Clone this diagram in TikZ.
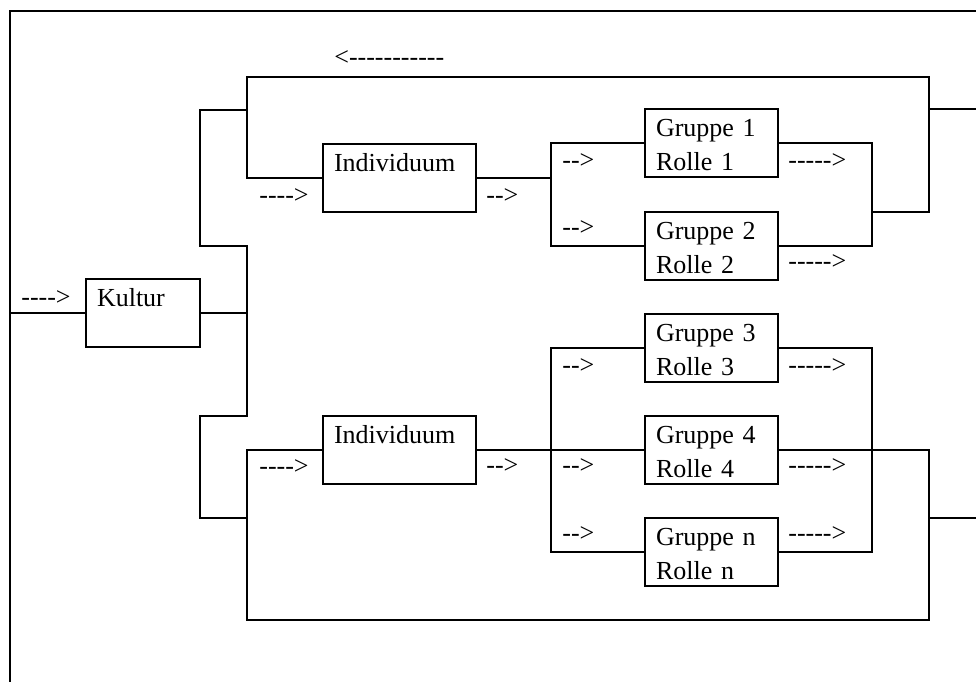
\documentclass[tikz,border=0pt]{standalone}
\usepackage{fontspec}
\setmainfont{Liberation Serif}[Ligatures=TeXOff]

\begin{document}
\begin{tikzpicture}[x=1pt,y=-1pt,line width=2.7pt,
    font=\fontsize{26}{34}\selectfont,
    kasten/.style={draw,anchor=north west,outer sep=0pt,inner xsep=11pt,inner ysep=0pt,
        text height=27pt,text depth=41pt,align=left},
    pfeil/.style={anchor=base west,inner sep=0pt}]
\useasboundingbox (0,0) rectangle (976,682);

\node [kasten,text width=92pt] (kultur) at (86,279) {Kultur};
\node [kasten,text width=131pt] (ind1) at (323,144) {Individuum};
\node [kasten,text width=131pt] (ind2) at (323,416) {Individuum};
\node [kasten,text width=111pt] (g1) at (645,109) {Gruppe 1\\Rolle 1};
\node [kasten,text width=111pt] (g2) at (645,212) {Gruppe 2\\Rolle 2};
\node [kasten,text width=111pt] (g3) at (645,314) {Gruppe 3\\Rolle 3};
\node [kasten,text width=111pt] (g4) at (645,416) {Gruppe 4\\Rolle 4};
\node [kasten,text width=111pt] (gn) at (645,518) {Gruppe n\\Rolle n};

\draw (976,11) -- (10,11) -- (10,682);
\draw (10,313) -- (kultur) -- (247,313);
\draw (247,110) -- (200,110) |- (247,246) -- (247,416) -| (200,518) -- (247,518);

\draw (ind1) -- (247,178) |- (929,77) |- (872,212);
\draw (976,109) -- (929,109);
\draw (ind1) -- (551,178);
\draw (g1) -| (551,178) |- (g2);
\draw (g1) -| (872,212) |- (g2);

\draw (ind2) -- (g4);
\draw (ind2) -- (247,450) |- (929,620) |- (g4);
\draw (976,518) -- (929,518);
\draw (g3) -| (551,450) |- (gn);
\draw (g3) -| (872,450) |- (gn);

\node [pfeil] (zurueck) at (333,66) {<-----------};
\node [pfeil] (pk) at (20,305) {---->};
\node [pfeil] (pi1) at (258,203) {---->};
\node [pfeil] (pi2) at (258,474) {---->};
\node [pfeil] (pa1) at (485,203) {-->};
\node [pfeil] (pa2) at (485,473) {-->};
\node [pfeil] (pg1) at (561,168) {-->};
\node [pfeil] (pg2) at (561,235) {-->};
\node [pfeil] (pr1) at (787,168) {----->};
\node [pfeil] (pr2) at (787,269) {----->};
\foreach \y/\n in {373/3,473/4,541/n} {
    \node [pfeil] (pg\n) at (561,\y) {-->};
    \node [pfeil] (pr\n) at (787,\y) {----->};
}
\end{tikzpicture}
\end{document}
